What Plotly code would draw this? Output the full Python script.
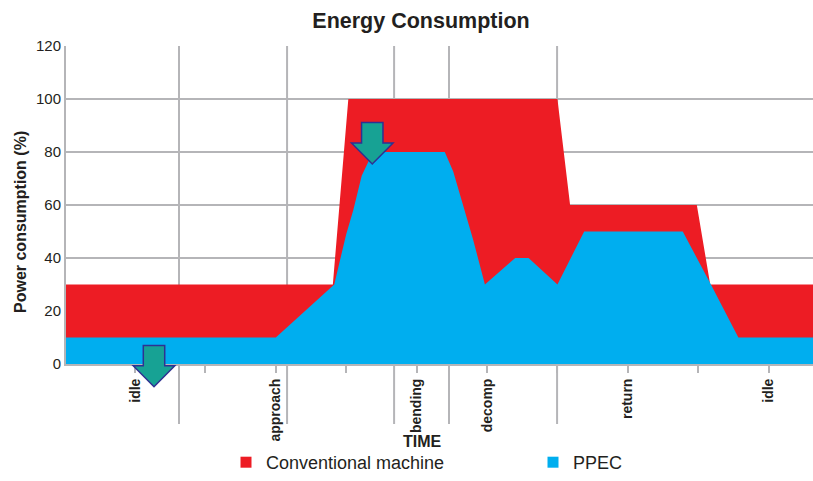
import plotly.graph_objects as go

# ---- data (x in time units: tick 1..10, y in % power) ----
conv_x = [0.0, 3.81, 4.03, 7.0, 7.18, 8.98, 9.17, 10.7]
conv_y = [30, 30, 100, 100, 60, 60, 30, 30]

ppec_x = [0.0, 3.0, 3.83, 3.91, 4.0, 4.10, 4.22, 4.38, 5.40, 5.52, 5.66, 5.80,
          5.97, 6.40, 6.59, 7.0, 7.38, 8.78, 9.18, 9.57, 10.7]
ppec_y = [10, 10, 30, 39, 49, 58, 71, 80, 80, 72.6, 59.7, 47.2,
          30, 40, 40, 30, 50, 50, 30, 10, 10]

tick_vals = [1, 2, 3, 4, 5, 6, 7, 8, 9, 10]
tick_text = ["idle", "", "approach", "", "bending", "decomp", "", "return", "", "idle"]

phase_bounds = [1.625, 3.16, 4.68, 5.46, 6.995]

arrow_x = [4.37, 1.27]
arrow_tip = [75.5, -8.6]

RED = "#ED1C24"
BLUE = "#00AEEF"
GRID = "#b5b5b8"
TXT = "#231f20"
Y_MAX = 120

W, H = 813, 481

fig = go.Figure()
fig.add_trace(go.Scatter(x=conv_x, y=conv_y, mode="lines", fill="tozeroy",
                         line=dict(width=0, color=RED), fillcolor=RED,
                         showlegend=False, hoverinfo="skip"))
fig.add_trace(go.Scatter(x=ppec_x, y=ppec_y, mode="lines", fill="tozeroy",
                         line=dict(width=0, color=BLUE), fillcolor=BLUE,
                         showlegend=False, hoverinfo="skip"))
# legend entries
fig.add_trace(go.Scatter(x=[None], y=[None], mode="markers", name="Conventional machine",
                         marker=dict(symbol="square", size=11, color=RED), legend="legend"))
fig.add_trace(go.Scatter(x=[None], y=[None], mode="markers", name="PPEC",
                         marker=dict(symbol="square", size=11, color=BLUE), legend="legend2"))

shapes = []
for b in phase_bounds:
    shapes.append(dict(type="line", xref="x", yref="paper", x0=b, x1=b, y0=-0.189, y1=1,
                       line=dict(color=GRID, width=2), layer="below"))

# arrows (pixel-like dims expressed in axis units)
sw, hw, hh, tot = 0.152, 0.295, 7.9, 15.6
for ax_, tip in zip(arrow_x, arrow_tip):
    p = lambda v: v / Y_MAX
    path = (f"M {ax_-sw},{p(tip+tot)} L {ax_+sw},{p(tip+tot)} L {ax_+sw},{p(tip+hh)} "
            f"L {ax_+hw},{p(tip+hh)} L {ax_},{p(tip)} L {ax_-hw},{p(tip+hh)} "
            f"L {ax_-sw},{p(tip+hh)} Z")
    shapes.append(dict(type="path", xref="x", yref="paper", path=path,
                       fillcolor="#17a294", line=dict(color="#2e3192", width=1.5),
                       layer="above"))

legend_common = dict(orientation="h", xref="container", yref="container",
                     xanchor="left", yanchor="bottom", y=0,
                     font=dict(size=18, color=TXT), bgcolor="rgba(0,0,0,0)",
                     borderwidth=0)

fig.update_layout(
    width=W, height=H,
    margin=dict(l=66, r=0, t=46, b=H - 364, autoexpand=False),
    paper_bgcolor="white", plot_bgcolor="white",
    font=dict(family="Liberation Sans, Arial, sans-serif", color=TXT),
    title=dict(text="<b>Energy Consumption</b>", x=421/W, xref="container", xanchor="center",
               y=1 - 20/H, yanchor="middle", yref="container",
               font=dict(size=21.5, color=TXT)),
    xaxis=dict(range=[0.02, 10.63], tickmode="array", tickvals=tick_vals,
               ticktext=[f"<b>{t}</b>" if t else "" for t in tick_text],
               tickangle=-90, ticks="outside", ticklen=7, tickwidth=1.5, tickcolor=GRID,
               tickfont=dict(family="Liberation Sans Narrow, Arial Narrow, sans-serif", size=14, color=TXT),
               showgrid=False, showline=True, linecolor=GRID, linewidth=2, zeroline=False,
               fixedrange=True, automargin=False),
    yaxis=dict(range=[0, Y_MAX], dtick=20, showgrid=True, gridcolor=GRID, gridwidth=1.5,
               showline=True, linecolor=GRID, linewidth=2, zeroline=False, ticks="",
               tickfont=dict(size=15, color=TXT), fixedrange=True, automargin=False),
    shapes=shapes,
    showlegend=True,
    legend=dict(legend_common, x=226/W),
    legend2=dict(legend_common, x=533/W),
    annotations=[
        dict(text="<b>Power consumption (%)</b>", xref="paper", yref="paper",
             x=(20-66)/747, y=(364-222)/318, textangle=-90, showarrow=False,
             xanchor="center", yanchor="middle", font=dict(size=16, color=TXT)),
        dict(text="<b>TIME</b>", xref="paper", yref="paper",
             x=(422-66)/747, y=(364-441)/318, showarrow=False,
             xanchor="center", yanchor="middle", font=dict(size=16, color=TXT)),
    ],
)

fig.write_html("out.html", config={"displayModeBar": False},
               post_script="document.body.style.margin='0';document.body.style.overflow='hidden';")
